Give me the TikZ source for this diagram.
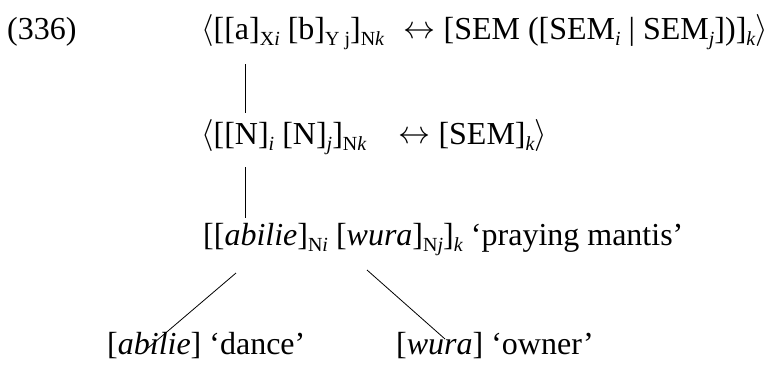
\documentclass[tikz,border=0pt]{standalone}
\usepackage{fix-cm}
\usepackage{fontspec}
\setmainfont{Liberation Serif}
% lowered, smaller subscript text
\newcommand\lsb[1]{\raisebox{-0.2em}{\fontsize{20}{20}\selectfont #1}}
\newcommand\lang{\raisebox{0.02em}{$\langle$}}
\newcommand\rang{\raisebox{0.02em}{$\rangle$}}
\newcommand\dbl{\raisebox{0.03em}{$\leftrightarrow$}}
\begin{document}
\begin{tikzpicture}[x=1pt,y=-1pt,
  every node/.style={inner sep=0pt,anchor=base west,font=\fontsize{32}{36}\selectfont},
  branch/.style={line width=0.8pt}]
\useasboundingbox (0,0) rectangle (771,376);
\node (num) at (7,39) {(336)};
\node (top) at (201,39) {\lang[[a]\lsb{X\textit{i}} [b]\lsb{Y j}]\lsb{N\textit{k}}\hspace{0.6em}\dbl\hspace{0.25em}[SEM ([SEM\lsb{\textit{i}} | SEM\lsb{\textit{j}}])]\lsb{\textit{k}}\rang};
\node (mid) at (201,144) {\lang[[N]\lsb{\textit{i}} [N]\lsb{\textit{j}}]\lsb{N\textit{k}}\hspace{1em}\dbl\hspace{0.25em}[SEM]\lsb{\textit{k}}\rang};
\node (low) at (203,245) {[[\textit{abilie}]\lsb{N\textit{i}} [\textit{wura}]\lsb{N\textit{j}}]\lsb{\textit{k}} ‘praying mantis’};
\node (dance) at (107,354) {[\textit{abilie}] ‘dance’};
\node (owner) at (396,354) {[\textit{wura}] ‘owner’};
% branch end points
\coordinate (t1) at (245,64);
\coordinate (m1) at (245,113);
\coordinate (t2) at (245,167);
\coordinate (m2) at (245,218);
\coordinate (l1) at (236,273);
\coordinate (d1) at (148,348);
\coordinate (l2) at (367,270);
\coordinate (o1) at (445,339);
\draw[branch] (t1) -- (m1);
\draw[branch] (t2) -- (m2);
\draw[branch] (l1) -- (d1);
\draw[branch] (l2) -- (o1);
\end{tikzpicture}
\end{document}
